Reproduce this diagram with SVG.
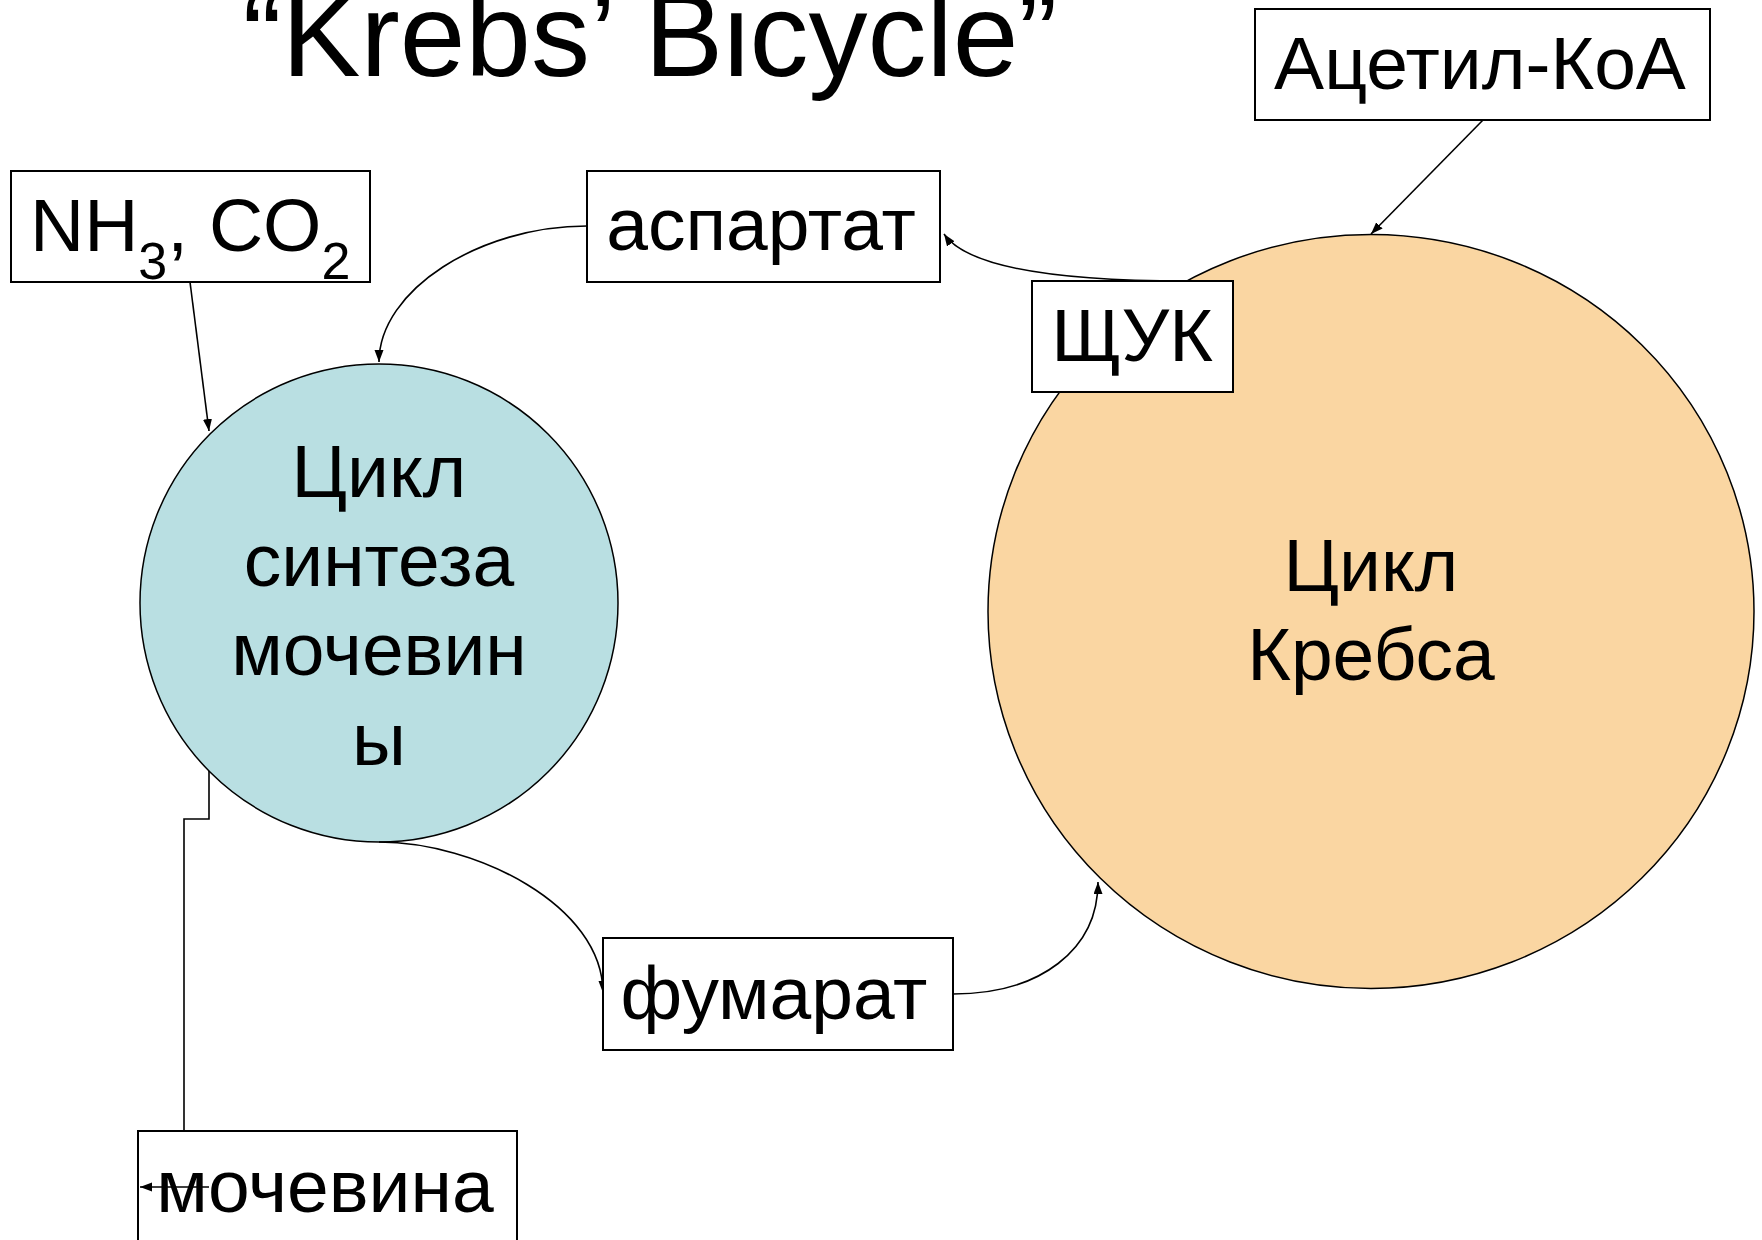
<svg xmlns="http://www.w3.org/2000/svg" width="1762" height="1240" viewBox="0 0 1762 1240">
<defs>
<marker id="arr" markerWidth="13" markerHeight="10" refX="12" refY="4.5" orient="auto" markerUnits="userSpaceOnUse">
<path d="M0,0 L12,4.5 L0,9 z" fill="#000"/>
</marker>
<style>
.t{font-family:"Liberation Sans",Arial,"DejaVu Sans",sans-serif;font-size:75px;fill:#000}
.box{fill:#fff;stroke:#000;stroke-width:2}
.c{fill:none;stroke:#000;stroke-width:1.6;marker-end:url(#arr)}
</style>
</defs>
<rect width="1762" height="1240" fill="#fff"/>
<g id="title"><text class="t" x="650" y="76" text-anchor="middle" style="font-size:118px">“Krebs’ Bicycle”</text></g>
<g id="urea-cycle"><circle cx="379" cy="603" r="239" fill="#B9DFE2" stroke="#000" stroke-width="1.5"/>
<text class="t" text-anchor="middle"><tspan x="379" y="497">Цикл</tspan><tspan x="379" y="586">синтеза</tspan><tspan x="379" y="675">мочевин</tspan><tspan x="379" y="765">ы</tspan></text></g>
<g id="krebs-cycle"><ellipse cx="1371" cy="611.5" rx="383" ry="377" fill="#FAD6A2" stroke="#000" stroke-width="1.5"/>
<text class="t" text-anchor="middle"><tspan x="1371" y="591">Цикл</tspan><tspan x="1371" y="680">Кребса</tspan></text></g>
<g id="connectors">
<path class="c" d="M190,282 L209,431"/>
<path class="c" d="M587,226 C480,226 379,290 379,362"/>
<path class="c" d="M1187,281 C1080,281 970,272 944,234"/>
<path class="c" d="M1483,120 L1371,234"/>
<path class="c" d="M379,842 C475,842 603,905 603,993"/>
<path class="c" d="M953,994 C1040,994 1098,950 1098,882"/>
<path class="c" d="M209,771 V819 H184 V1187 H140"/>
</g>
<g id="nh3-co2"><rect class="box" x="11" y="171" width="359" height="111"/>
<text class="t" x="30" y="251">NH<tspan style="font-size:52px" dy="28">3</tspan><tspan dy="-28">, CO</tspan><tspan style="font-size:52px" dy="28">2</tspan></text></g>
<g id="aspartate"><rect class="box" x="587" y="171" width="353" height="111"/>
<text class="t" x="761" y="250" text-anchor="middle">аспартат</text></g>
<g id="oxaloacetate"><rect class="box" x="1032" y="281" width="201" height="111"/>
<text class="t" x="1132" y="361" text-anchor="middle">ЩУК</text></g>
<g id="acetyl-coa"><rect class="box" x="1255" y="9" width="455" height="111"/>
<text class="t" x="1480" y="89" text-anchor="middle">Ацетил-КоА</text></g>
<g id="fumarate"><rect class="box" x="603" y="938" width="350" height="112"/>
<text class="t" x="774" y="1019" text-anchor="middle">фумарат</text></g>
<g id="urea"><rect class="box" x="138" y="1131" width="379" height="112"/>
<text class="t" x="325" y="1212" text-anchor="middle">мочевина</text></g>
<path d="M209,1187 H140" stroke="#000" stroke-width="1.6" fill="none" marker-end="url(#arr)"/>
</svg>
